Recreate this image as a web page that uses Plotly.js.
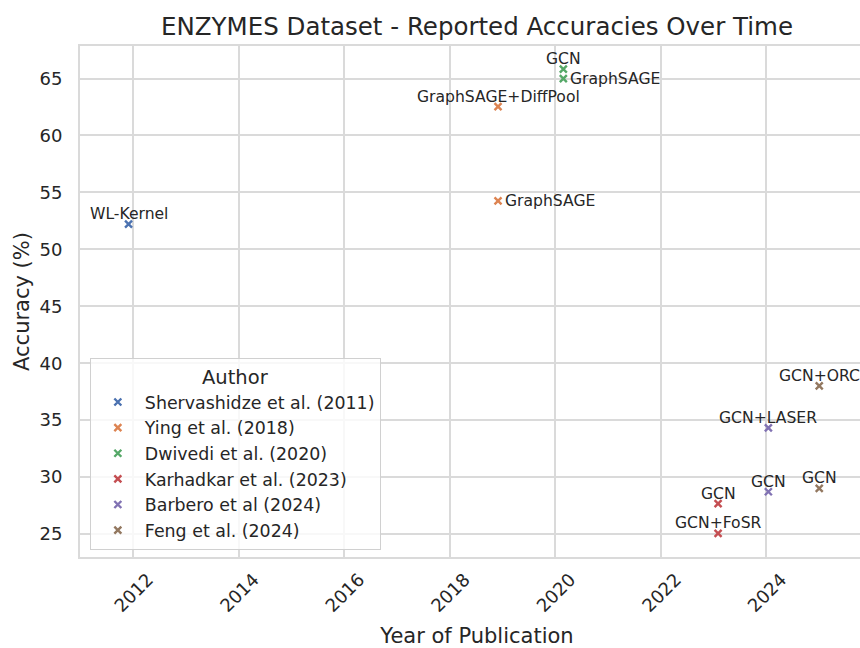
<!DOCTYPE html>
<html>
<head>
<meta charset="utf-8">
<script src="https://cdn.plot.ly/plotly-3.0.1.min.js"></script>
<style>
  html, body { margin: 0; padding: 0; overflow: hidden; background: #fff; }
  #chart { width: 874px; height: 648px; }
</style>
</head>
<body>
<div id="chart"></div>
<script>
// ---- Data ----
const authors = [
  "Shervashidze et al. (2011)",
  "Ying et al. (2018)",
  "Dwivedi et al. (2020)",
  "Karhadkar et al. (2023)",
  "Barbero et al (2024)",
  "Feng et al. (2024)"
];
const pointAuthor = [
  "Shervashidze et al. (2011)",
  "Ying et al. (2018)", "Ying et al. (2018)",
  "Dwivedi et al. (2020)", "Dwivedi et al. (2020)",
  "Karhadkar et al. (2023)", "Karhadkar et al. (2023)",
  "Barbero et al (2024)", "Barbero et al (2024)",
  "Feng et al. (2024)", "Feng et al. (2024)"
];
const pointMethod = [
  "WL-Kernel",
  "GraphSAGE+DiffPool", "GraphSAGE",
  "GCN", "GraphSAGE",
  "GCN", "GCN+FoSR",
  "GCN+LASER", "GCN",
  "GCN+ORC", "GCN"
];
const pointDate = [
  "2011-12-01",
  "2018-12-01", "2018-12-01",
  "2020-02-26", "2020-02-26",
  "2023-02-01", "2023-02-01",
  "2024-01-15", "2024-01-15",
  "2025-01-01", "2025-01-01"
];
const pointAccuracy = [
  52.22,
  62.53, 54.25,
  65.83, 65.00,
  27.66, 25.05,
  34.32, 28.71,
  38.01, 29.00
];
const yTickVals = [25, 30, 35, 40, 45, 50, 55, 60, 65];

// ---- Styles ----
const palette = ["#4c72b0", "#dd8452", "#55a868", "#c44e52", "#8172b3", "#937860"];
const labelSide = [
  "above",
  "above", "right",
  "above", "right",
  "above", "above",
  "above", "above",
  "above", "above"
];
const FONT = "DejaVu Sans, Liberation Sans, sans-serif";
const INK = "#262626";
const GRID = "#dadada";

const traces = authors.map((a, i) => {
  const idx = pointAuthor.map((p, k) => p === a ? k : -1).filter(k => k >= 0);
  return {
    type: "scatter",
    mode: "markers",
    name: a,
    x: idx.map(k => pointDate[k]),
    y: idx.map(k => pointAccuracy[k]),
    text: idx.map(k => pointMethod[k]),
    cliponaxis: false,
    marker: {
      symbol: "x-thin",
      size: 7,
      color: palette[i],
      line: { color: palette[i], width: 2.4 }
    },
    hoverinfo: "x+y+text"
  };
});

const annotations = pointMethod.map((m, k) => {
  const right = labelSide[k] === "right";
  return {
    x: pointDate[k],
    y: pointAccuracy[k],
    xref: "x", yref: "y",
    text: m,
    showarrow: false,
    font: { family: FONT, size: 15.6, color: INK },
    xanchor: right ? "left" : "center",
    yanchor: "middle",
    xshift: right ? 5 : 0,
    yshift: right ? 0 : 10
  };
});

const layout = {
  width: 874,
  height: 648,
  paper_bgcolor: "#ffffff",
  plot_bgcolor: "#ffffff",
  font: { family: FONT, color: INK, size: 17 },
  margin: { l: 80, r: 0, t: 46, b: 91, pad: 0 },
  title: {
    text: "ENZYMES Dataset - Reported Accuracies Over Time",
    font: { family: FONT, size: 24.5, color: INK },
    xref: "container", x: 477 / 874, xanchor: "center",
    yref: "container", y: 1 - 26 / 648, yanchor: "middle"
  },
  annotations: annotations,
  xaxis: {
    type: "date",
    range: ["2010-12-30", "2026-01-15"],
    tick0: "2012-01-01",
    dtick: "M24",
    tickformat: "%Y",
    tickangle: -45,
    ticks: "",
    ticklabelshift: 15,
    ticklabelstandoff: 3,
    tickfont: { family: FONT, size: 18, color: INK },
    showgrid: true,
    gridcolor: GRID,
    gridwidth: 2,
    zeroline: false,
    showline: true,
    linecolor: GRID,
    linewidth: 2,
    mirror: true,
    title: { text: "Year of Publication", font: { family: FONT, size: 21, color: INK }, standoff: 15 }
  },
  yaxis: {
    range: [22.98, 67.86],
    tickvals: yTickVals,
    ticktext: yTickVals.map(String),
    ticks: "",
    ticklabelstandoff: 12,
    tickfont: { family: FONT, size: 18, color: INK },
    showgrid: true,
    gridcolor: GRID,
    gridwidth: 2,
    zeroline: false,
    showline: true,
    linecolor: GRID,
    linewidth: 2,
    mirror: true,
    title: { text: "Accuracy (%)", font: { family: FONT, size: 21, color: INK }, standoff: 4 }
  },
  showlegend: true,
  legend: {
    x: 0.0124, xanchor: "left",
    y: 0.014, yanchor: "bottom",
    bgcolor: "rgba(255,255,255,0.8)",
    bordercolor: "#d0d0d0",
    borderwidth: 1,
    font: { family: FONT, size: 17.4, color: INK },
    title: { text: "Author", side: "top center", font: { family: FONT, size: 19.5, color: INK } },
    itemwidth: 44,
    tracegroupgap: 0
  }
};

Plotly.newPlot("chart", traces, layout, { displayModeBar: false, staticPlot: true });
</script>
</body>
</html>
